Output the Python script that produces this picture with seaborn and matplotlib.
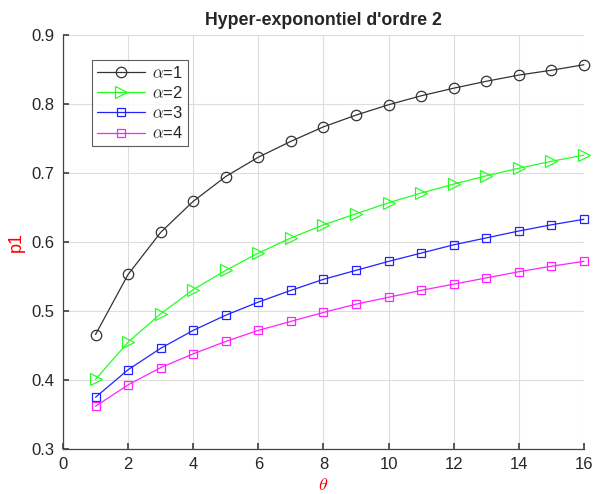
import matplotlib
matplotlib.use("Agg")
import matplotlib.pyplot as plt
import seaborn as sns
import pandas as pd

theta = list(range(1, 17))
rho_a1 = [0.466, 0.553, 0.614, 0.659, 0.695, 0.723, 0.746, 0.767, 0.784, 0.799, 0.812, 0.823, 0.833, 0.842, 0.849, 0.857]
rho_a2 = [0.401, 0.455, 0.496, 0.531, 0.559, 0.584, 0.606, 0.625, 0.641, 0.657, 0.671, 0.684, 0.696, 0.707, 0.717, 0.726]
rho_a3 = [0.375, 0.415, 0.446, 0.472, 0.494, 0.513, 0.530, 0.546, 0.559, 0.572, 0.584, 0.596, 0.606, 0.616, 0.625, 0.633]
rho_a4 = [0.362, 0.393, 0.418, 0.438, 0.456, 0.472, 0.485, 0.498, 0.510, 0.520, 0.530, 0.539, 0.548, 0.557, 0.565, 0.572]
labels = [r"$\alpha$=1", r"$\alpha$=2", r"$\alpha$=3", r"$\alpha$=4"]
colors = ["#333333", "#22ff22", "#2222ff", "#ff22ff"]
markers = ["o", ">", "s", "s"]
msizes = [7.5, 8.5, 6, 6]

sns.set_theme(style="white")
plt.rcParams["font.family"] = ["Liberation Sans", "DejaVu Sans"]
plt.rcParams["mathtext.fontset"] = "cm"

fig = plt.figure(figsize=(5.94, 4.94), dpi=100)
ax = fig.add_axes([0.106, 0.091, 0.877, 0.838])

series = [rho_a1, rho_a2, rho_a3, rho_a4]
for vals, lab, c, m, ms in zip(series, labels, colors, markers, msizes):
    df = pd.DataFrame({"theta": theta, "rho": vals})
    sns.lineplot(data=df, x="theta", y="rho", ax=ax, color=c, marker=m,
                 markersize=ms, markerfacecolor="none", markeredgecolor=c,
                 markeredgewidth=0.9, linewidth=0.9, label=lab, clip_on=False)

ax.set_xlim(0, 16)
ax.set_ylim(0.3, 0.9)
ax.set_xticks(range(0, 17, 2))
ax.set_yticks([0.3, 0.4, 0.5, 0.6, 0.7, 0.8, 0.9])
ax.set_yticklabels(["0.3", "0.4", "0.5", "0.6", "0.7", "0.8", "0.9"])
ax.grid(True, color="#dddddd", linewidth=0.8)
ax.tick_params(direction="in", length=4, color="#444444", labelsize=12,
               labelcolor="#262626", pad=6, left=True, bottom=True)
for s in ["top", "right"]:
    ax.spines[s].set_visible(False)
for s in ["left", "bottom"]:
    ax.spines[s].set_color("#444444")
    ax.spines[s].set_linewidth(0.9)

ax.set_title("Hyper-exponontiel d'ordre 2", fontsize=12.8, fontweight="bold",
             pad=7, family=["Liberation Sans", "DejaVu Sans"])
ax.set_xlabel(r"$\theta$", color="red", fontsize=13, labelpad=3)
ax.set_ylabel("p1", color="red", fontsize=13, labelpad=5,
              family=["Liberation Sans", "DejaVu Sans"])

leg = ax.legend(loc="upper left", bbox_to_anchor=(0.056, 0.94), fontsize=12,
                frameon=True, fancybox=False, edgecolor="#333333",
                handlelength=2.9, borderpad=0.3, labelspacing=0.25,
                handletextpad=0.4, borderaxespad=0)
leg.get_frame().set_linewidth(0.8)

fig.savefig("out.png", dpi=100, facecolor="white")
